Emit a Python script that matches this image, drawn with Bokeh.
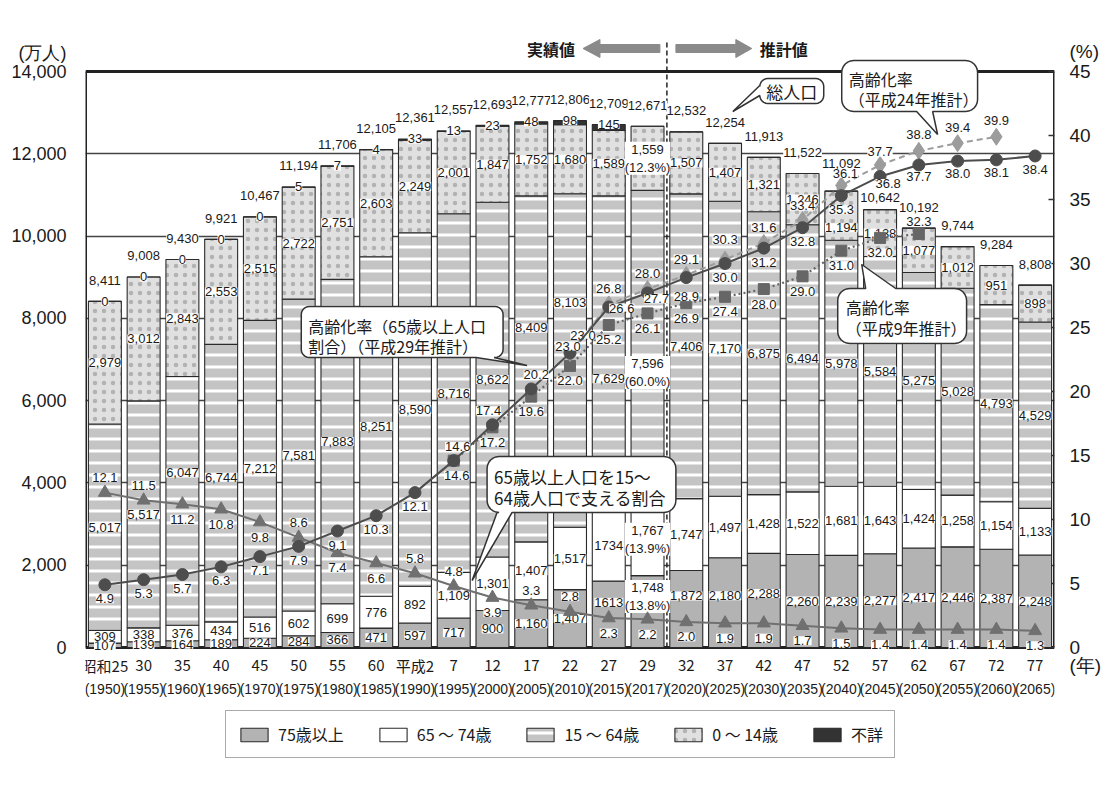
import numpy as np
from bokeh.plotting import figure
from bokeh.models import (ColumnDataSource, Range1d, LinearAxis, FixedTicker,
                          NumeralTickFormatter, Legend, LegendItem)
from bokeh.core.properties import value
from bokeh.embed import file_html
from bokeh.resources import INLINE

# ---------------- data ----------------
eras = ["昭和25", "30", "35", "40", "45", "50", "55", "60", "平成2", "7", "12", "17",
        "22", "27", "29", "32", "37", "42", "47", "52", "57", "62", "67", "72", "77"]
years = ["1950", "1955", "1960", "1965", "1970", "1975", "1980", "1985", "1990", "1995",
         "2000", "2005", "2010", "2015", "2017", "2020", "2025", "2030", "2035", "2040",
         "2045", "2050", "2055", "2060", "2065"]
total = [8411, 9008, 9430, 9921, 10467, 11194, 11706, 12105, 12361, 12557, 12693, 12777,
         12806, 12709, 12671, 12532, 12254, 11913, 11522, 11092, 10642, 10192, 9744, 9284, 8808]
age75 = [107, 139, 164, 189, 224, 284, 366, 471, 597, 717, 900, 1160, 1407, 1613, 1748,
         1872, 2180, 2288, 2260, 2239, 2277, 2417, 2446, 2387, 2248]
age65_74 = [309, 338, 376, 434, 516, 602, 699, 776, 892, 1109, 1301, 1407, 1517, 1734, 1767,
            1747, 1497, 1428, 1522, 1681, 1643, 1424, 1258, 1154, 1133]
age15_64 = [5017, 5517, 6047, 6744, 7212, 7581, 7883, 8251, 8590, 8716, 8622, 8409, 8103,
            7629, 7596, 7406, 7170, 6875, 6494, 5978, 5584, 5275, 5028, 4793, 4529]
age0_14 = [2979, 3012, 2843, 2553, 2515, 2722, 2751, 2603, 2249, 2001, 1847, 1752, 1680,
           1589, 1559, 1507, 1407, 1321, 1246, 1194, 1138, 1077, 1012, 951, 898]
unknown = [0, 0, 0, 0, 0, 5, 7, 4, 33, 13, 23, 48, 98, 145, 0, 0, 0, 0, 0, 0, 0, 0, 0, 0, 0]
unknown_labelled = 14  # first 14 bars carry a 不詳 label

aging_h29 = [4.9, 5.3, 5.7, 6.3, 7.1, 7.9, 9.1, 10.3, 12.1, 14.6, 17.4, 20.2, 23.0, 26.6, 27.7,
             28.9, 30.0, 31.2, 32.8, 35.3, 36.8, 37.7, 38.0, 38.1, 38.4]
aging_h24 = [None] * 12 + [23.0, 26.8, 28.0, 29.1, 30.3, 31.6, 33.4, 36.1, 37.7, 38.8, 39.4, 39.9, None]
aging_h9 = [None] * 9 + [14.6, 17.2, 19.6, 22.0, 25.2, 26.1, 26.9, 27.4, 28.0, 29.0, 31.0, 32.0, 32.3,
                         None, None, None]
support = [12.1, 11.5, 11.2, 10.8, 9.8, 8.6, 7.4, 6.6, 5.8, 4.8, 3.9, 3.3, 2.8, 2.3, 2.2, 2.0,
           1.9, 1.9, 1.7, 1.5, 1.4, 1.4, 1.4, 1.4, 1.3]
share_2017 = {"75": 13.8, "65": 13.9, "15": 60.0, "0": 12.3}
y_ticks = [0, 2000, 4000, 6000, 8000, 10000, 12000, 14000]
pct_ticks = [0, 5, 10, 15, 20, 25, 30, 35, 40, 45]

# ---------------- layout ----------------
N = len(eras)
xs_all = list(range(N))
W, H = 1104, 787
FL, FR, FT, FB = 85, 1055, 20, H          # frame covers down to the canvas bottom
BASE, TOP = 647, 71                        # pixel rows of 0 and 14,000
Y_MAX, P_MAX = 14000, 45
PX_PER_Y = (BASE - TOP) / Y_MAX
UNIT = (FR - FL) / N


def dx(px):
    return (px - FL) / UNIT - 0.5


def dy(py):
    return (BASE - py) / PX_PER_Y


def dp(py):
    return dy(py) * P_MAX / Y_MAX


NUM_FONT = "Liberation Sans"
JP_FONT = "Noto Sans CJK JP"
TXT = "#1a1a1a"

p = figure(width=W, height=H, x_range=Range1d(-0.5, N - 0.5), y_range=Range1d(dy(FB), dy(FT)),
           output_backend="svg", toolbar_location=None, x_axis_location=None,
           min_border_left=FL, min_border_right=W - FR, min_border_top=FT, min_border_bottom=0)
p.outline_line_color = None
p.background_fill_color = "white"
p.border_fill_color = "white"
p.extra_y_ranges = {"pct": Range1d(dp(FB), dp(FT))}

# grid
p.xgrid.visible = False
p.ygrid.ticker = FixedTicker(ticks=y_ticks[1:-1])
p.ygrid.grid_line_color = "#444444"
p.ygrid.grid_line_width = 1.4

# left axis (unit caption rides on an extra tick above 14,000)
UNIT_TICK = 14460
yax = p.yaxis[0]
yax.ticker = FixedTicker(ticks=y_ticks + [UNIT_TICK])
yax.formatter = NumeralTickFormatter(format="0,0")
yax.major_label_overrides = {UNIT_TICK: "(万人)"}
yax.axis_line_color = None
yax.major_tick_line_color = None
yax.minor_tick_line_color = None
yax.major_label_text_font = "Liberation Sans"
yax.major_label_text_font_size = "18px"
yax.major_label_text_color = TXT
yax.major_label_standoff = 13

# right axis (captions "(%)" and "(年)" ride on extra ticks)
PCT_CAP, YEAR_CAP = 46.6, -1.4
rax = LinearAxis(y_range_name="pct", ticker=FixedTicker(ticks=pct_ticks + [PCT_CAP, YEAR_CAP]))
rax.major_label_overrides = {PCT_CAP: "(%)", YEAR_CAP: "(年)"}
rax.axis_line_color = None
rax.major_tick_line_color = None
rax.minor_tick_line_color = None
rax.major_label_text_font = "Liberation Sans"
rax.major_label_text_font_size = "19px"
rax.major_label_text_color = TXT
rax.major_label_standoff = 9
p.add_layout(rax, "right")

# frame lines and right-hand tick marks
p.segment(x0=[-0.5, N - 0.5, -0.5, -0.5], y0=[0, 0, Y_MAX, 0],
          x1=[-0.5, N - 0.5, N - 0.5, N - 0.5], y1=[Y_MAX, Y_MAX, Y_MAX, 0],
          line_color="#222222", line_width=3)
p.segment(x0=[N - 0.5 - 6 / UNIT] * len(pct_ticks), y0=pct_ticks,
          x1=[N - 0.5] * len(pct_ticks), y1=pct_ticks, y_range_name="pct",
          line_color="#333333", line_width=1.5)

# ---------------- bars ----------------
t75 = np.array(age75, float)
t65 = t75 + np.array(age65_74)
t15 = t65 + np.array(age15_64)
t0 = t15 + np.array(age0_14)
tu = t0 + np.array(unknown)
src = ColumnDataSource(dict(x=xs_all, b=np.zeros(N), t75=t75, t65=t65, t15=t15, t0=t0, tu=tu))
BW = 0.85
common = dict(x="x", width=BW, source=src, line_color="#2a2a2a", line_width=1.1)
r75 = p.vbar(bottom="b", top="t75", fill_color="#b3b3b3", **common)
r65 = p.vbar(bottom="t75", top="t65", fill_color="white", **common)
r15 = p.vbar(bottom="t65", top="t15", fill_color="#c4c4c4", hatch_pattern="horizontal_line",
             hatch_color="white", hatch_scale=12, hatch_weight=3, **common)
r0 = p.vbar(bottom="t15", top="t0", fill_color="#e0e0e0", hatch_pattern="dot",
            hatch_color="#b2b2b2", hatch_scale=9, hatch_weight=1, **common)
ru = p.vbar(bottom="t0", top="tu", fill_color="#333333", **common)

# dashed divider + header
p.segment(x0=[dx(667)], y0=[0], x1=[dx(667)], y1=[dy(40)], line_color="#222222",
          line_width=1.5, line_dash="5 3")
arrow_l = [(583, 48), (600, 39), (600, 44), (660, 44), (660, 52), (600, 52), (600, 57)]
arrow_r = [(676, 44), (736, 44), (736, 39), (752, 48), (736, 57), (736, 52), (676, 52)]
for poly in (arrow_l, arrow_r):
    p.patch([dx(a) for a, b in poly], [dy(b) for a, b in poly], fill_color="#8a8a8a",
            line_color="#8a8a8a")


def add_text(xs, ys, texts, xo=None, yo=None, size="13px", font=NUM_FONT, bg="white",
             align="center", baseline="middle", rng=None, color=TXT, style="normal"):
    n = len(xs)
    s = ColumnDataSource(dict(x=list(xs), y=list(ys), t=list(texts),
                              xo=list(xo) if xo is not None else [0] * n,
                              yo=list(yo) if yo is not None else [0] * n))
    kw = {}
    if rng:
        kw["y_range_name"] = rng
    p.text(x="x", y="y", text="t", x_offset="xo", y_offset="yo", source=s,
           text_align=align, text_baseline=baseline, text_font=value(font),
           text_font_size=value(size), text_color=color, text_font_style=style,
           background_fill_color=bg, **kw)


add_text([dx(551)], [dy(48)], ["実績値"], size="16px", font=JP_FONT, bg=None, style="bold")
add_text([dx(784)], [dy(48)], ["推計値"], size="16px", font=JP_FONT, bg=None, style="bold")

# category labels (two rows under the bars)
add_text(xs_all, [dy(665)] * N, eras, size="15px", font=JP_FONT, bg=None)
add_text(xs_all, [dy(688)] * N, ["(" + y + ")" for y in years], size="14px", bg=None)

# ---------------- segment labels ----------------
def fmt(v):
    return f"{v:,}"


i17 = years.index("2017")
i15 = years.index("2015")
lab75 = [fmt(v) for v in age75]
lab65 = [fmt(v) for v in age65_74]
lab15 = [fmt(v) for v in age15_64]
lab0 = [fmt(v) for v in age0_14]
lab75[i15] = str(age75[i15])
lab65[i15] = str(age65_74[i15])
lab75[i17] += f"\n({share_2017['75']:.1f}%)"
lab65[i17] += f"\n({share_2017['65']:.1f}%)"
lab15[i17] += f"\n({share_2017['15']:.1f}%)"
lab0[i17] += f"\n({share_2017['0']:.1f}%)"

off75 = {13: -12, 14: -15, 15: -13, 16: -7, 17: -7}
off15 = {2: -28, 3: -6, 11: -41, 12: -58, 13: 26, 14: 26}
off0 = {19: 12}

add_text(xs_all, t75 / 2, lab75, yo=[off75.get(i, 0) for i in xs_all])
add_text(xs_all, (t75 + t65) / 2, lab65)
add_text(xs_all, (t65 + t15) / 2, lab15, yo=[off15.get(i, 0) for i in xs_all])
add_text(xs_all, (t15 + t0) / 2, lab0, yo=[off0.get(i, 0) for i in xs_all])
add_text(xs_all[:unknown_labelled], tu[:unknown_labelled],
         [str(v) for v in unknown[:unknown_labelled]])
tot_off = {19: -28, 20: -12}
add_text(xs_all, tu, [fmt(v) for v in total], yo=[tot_off.get(i, -21) for i in xs_all])

# ---------------- lines ----------------
def pts(vals):
    xi = [i for i, v in enumerate(vals) if v is not None]
    return xi, [vals[i] for i in xi]


def series(vals, color, marker, size, dash, width, offs, default):
    xi, yi = pts(vals)
    p.line(xi, yi, y_range_name="pct", line_color=color, line_width=width, line_dash=dash)
    p.scatter(xi, yi, y_range_name="pct", marker=marker, size=size, fill_color=color,
              line_color=color)
    xo = [offs.get(i, default)[0] for i in xi]
    yo = [offs.get(i, default)[1] for i in xi]
    add_text(xi, yi, [f"{v:.1f}" for v in yi], xo=xo, yo=yo, rng="pct")


series(aging_h9, "#666666", "square", 11, "2 3", 2.2,
       {21: (0, -13), 9: (3, 15)}, (0, 15))
series(aging_h24, "#9c9c9c", "diamond", 17, "6 4", 2,
       {12: (13, -18), 16: (0, -20), 19: (4, -12), 20: (0, -13), 18: (0, -14)}, (0, -16))
tri_above = {0, 1, 5, 8, 9, 11, 12}
series(support, "#707070", "triangle", 13, "solid", 2,
       {i: (0, -15) for i in tri_above}, (0, 15))
h29_offs = {9: (4, -14), 10: (-4, -14), 11: (5, -14), 12: (-2, -7), 13: (13, 1),
            14: (9, 6), 15: (0, 19), 20: (8, 7), 21: (0, 12), 22: (0, 12), 23: (0, 13)}
series(aging_h29, "#4d4d4d", "circle", 12, "solid", 2, h29_offs, (0, 14))

# ---------------- callouts ----------------
def callout(x0, y0, x1, y1, edge, b1, b2, tip, r=10):
    pp = []

    def arc(cx, cy, a0, a1):
        for t in np.linspace(a0, a1, 7):
            pp.append((cx + r * np.cos(t), cy + r * np.sin(t)))

    arc(x0 + r, y0 + r, np.pi, 1.5 * np.pi)
    if edge == "top":
        pp.extend([(b1, y0), tip, (b2, y0)])
    arc(x1 - r, y0 + r, 1.5 * np.pi, 2 * np.pi)
    if edge == "right":
        pp.extend([(x1, b1), tip, (x1, b2)])
    arc(x1 - r, y1 - r, 0, 0.5 * np.pi)
    if edge == "bottom":
        pp.extend([(b2, y1), tip, (b1, y1)])
    arc(x0 + r, y1 - r, 0.5 * np.pi, np.pi)
    if edge == "left":
        pp.extend([(x0, b2), tip, (x0, b1)])
    p.patch([dx(a) for a, b in pp], [dy(b) for a, b in pp], fill_color="white",
            line_color="#333333", line_width=1.5)


callout(760, 78, 824, 103, "left", 85, 95, (733, 111), r=8)
add_text([dx(792)], [dy(91)], ["総人口"], size="17px", font=JP_FONT, bg=None)

callout(842, 60, 978, 111, "bottom", 917, 933, (938, 134), r=12)
add_text([dx(849)] * 2, [dy(78), dy(98)], ["高齢化率", "（平成24年推計）"], size="16px",
         font=JP_FONT, bg=None, align="left")

callout(301, 306, 503, 357, "bottom", 476, 494, (527, 365), r=8)
add_text([dx(308)] * 2, [dy(325), dy(345)], ["高齢化率（65歳以上人口", "割合）（平成29年推計）"],
         size="16px", font=JP_FONT, bg=None, align="left")

callout(487, 456, 676, 512, "bottom", 497, 512, (472, 580), r=12)
add_text([dx(494)] * 2, [dy(476), dy(497)], ["65歳以上人口を15～", "64歳人口で支える割合"],
         size="17px", font=JP_FONT, bg=None, align="left")

callout(838, 288, 967, 343, "top", 866, 896, (862, 264), r=12)
add_text([dx(846)] * 2, [dy(306), dy(327)], ["高齢化率", "（平成9年推計）"], size="16px",
         font=JP_FONT, bg=None, align="left")

# legend (inside the frame, below the category labels)
legend = Legend(items=[LegendItem(label="75歳以上", renderers=[r75]),
                       LegendItem(label="65 ～ 74歳", renderers=[r65]),
                       LegendItem(label="15 ～ 64歳", renderers=[r15]),
                       LegendItem(label="0 ～ 14歳", renderers=[r0]),
                       LegendItem(label="不詳", renderers=[ru])],
                orientation="horizontal", location=(225 - FL, FB - 758))
legend.label_text_font = JP_FONT
legend.label_text_font_size = "16px"
legend.label_text_color = TXT
legend.glyph_width = 34
legend.glyph_height = 17
legend.label_standoff = 7
legend.spacing = 32
legend.padding = 11
legend.margin = 0
legend.border_line_color = "#555555"
legend.border_line_width = 1.5
p.add_layout(legend, "center")

open("out.html", "w").write(file_html(p, INLINE))
